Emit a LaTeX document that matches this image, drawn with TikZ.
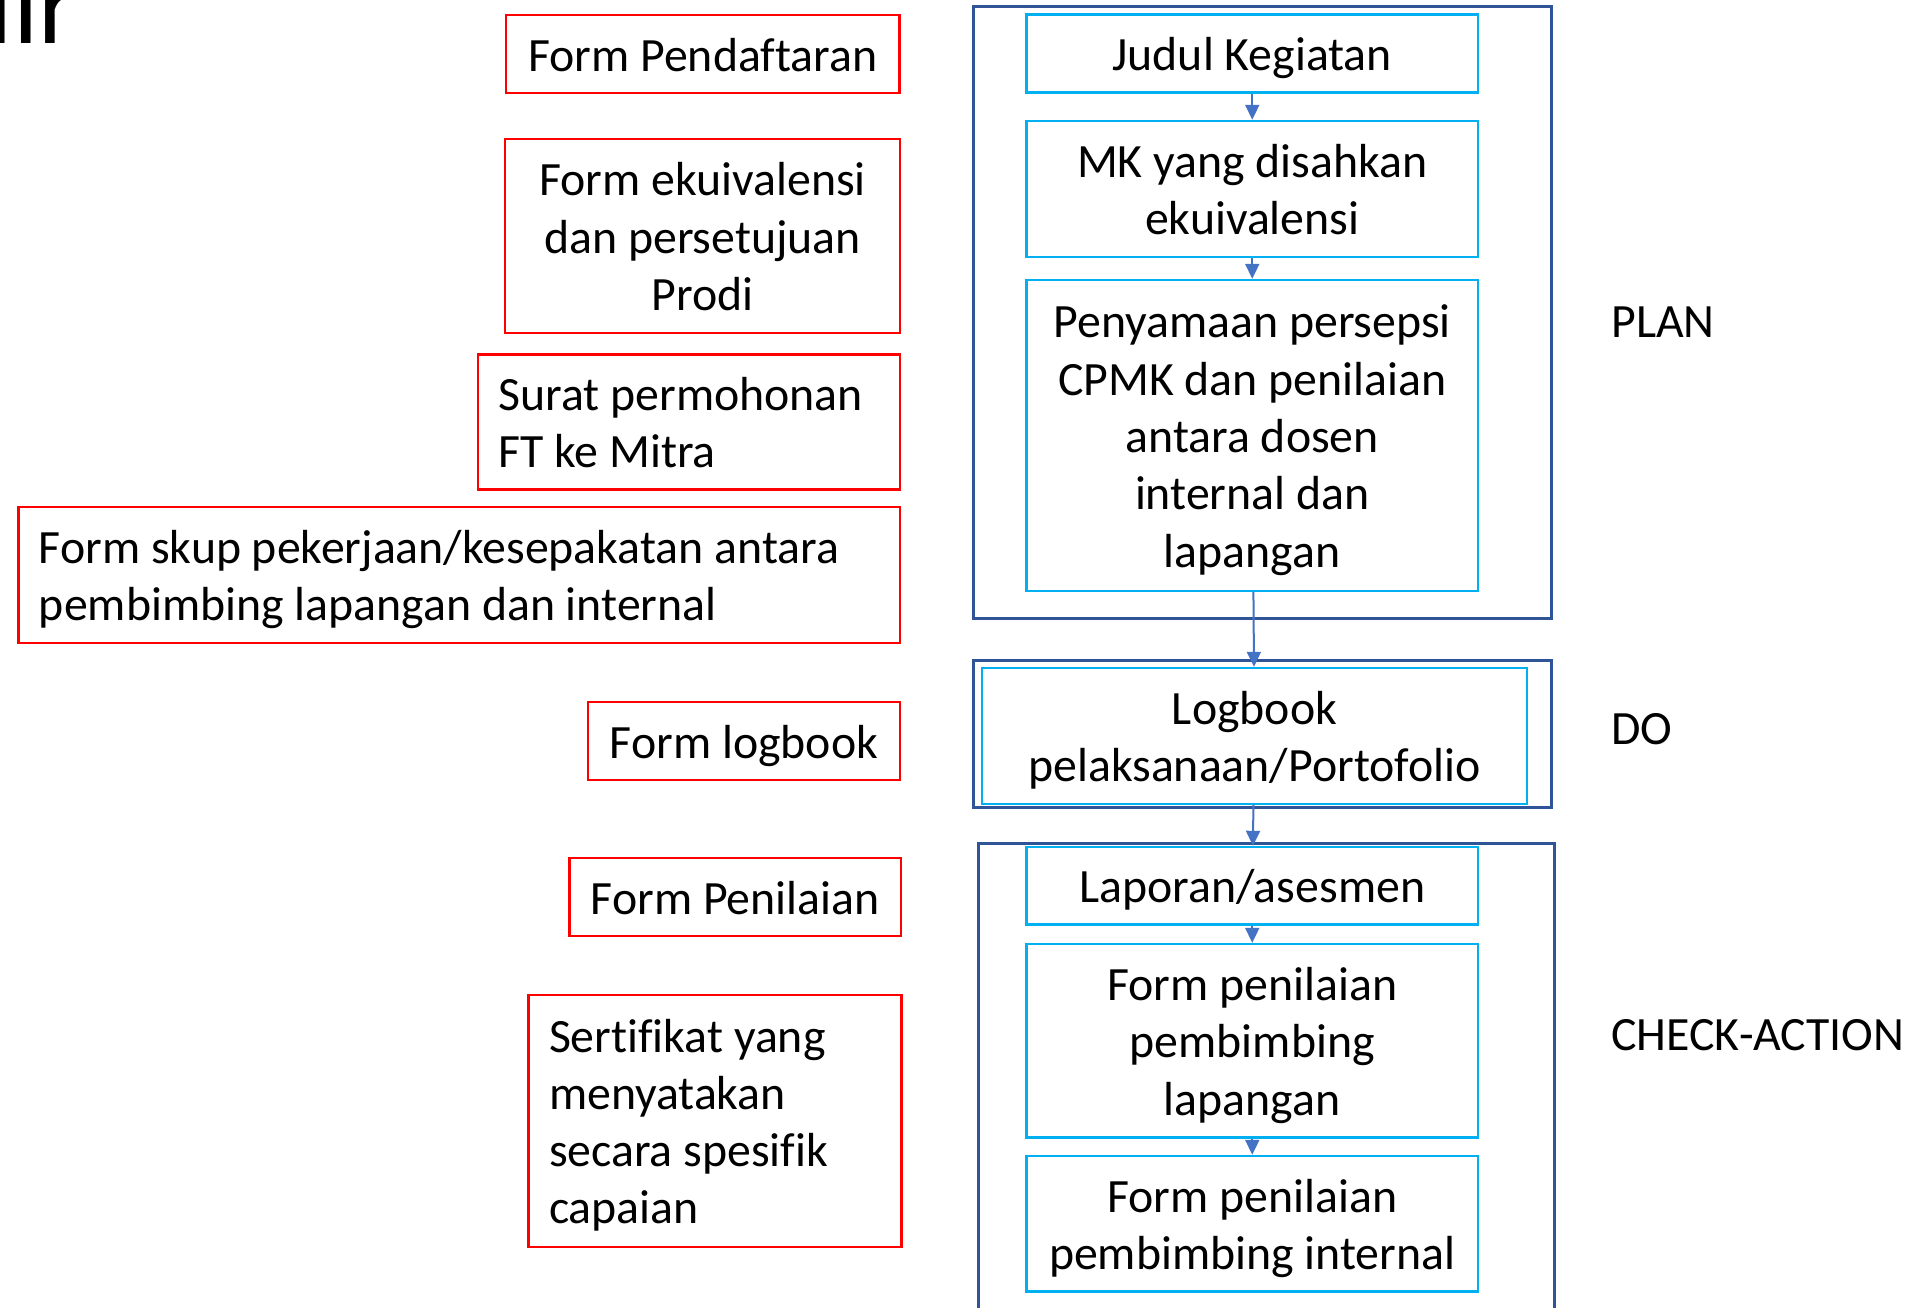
\documentclass[tikz,border=0pt]{standalone}
\usepackage{fontspec}
\setmainfont[Ligatures=NoCommon]{Carlito}
\usetikzlibrary{arrows.meta}
\definecolor{redbox}{HTML}{FF0000}
\definecolor{cyanbox}{HTML}{00B0F0}
\definecolor{framebl}{HTML}{2F5597}
\definecolor{arrowbl}{HTML}{4472C4}
\newcommand\sv{\rule[-5.75pt]{0pt}{28.5pt}}
\begin{document}
\begin{tikzpicture}[x=0.5pt,y=-0.5pt,
  body/.style={font=\fontsize{23.9}{28.65}\selectfont},
  sz/.style 2 args={minimum width=#1*0.5pt, minimum height=#2*0.5pt},
  redc/.style={body, draw=redbox, line width=1.2pt, inner sep=0pt, align=center},
  redl/.style={body, draw=redbox, line width=1.2pt, inner xsep=10.25pt, inner ysep=0pt, align=flush left},
  cyanc/.style={body, draw=cyanbox, line width=1.2pt, inner sep=0pt, align=center},
  frame/.style={draw=framebl, line width=1.5pt},
  flow/.style={draw=arrowbl, line width=1pt, -{Triangle[width=7pt,length=7.5pt]}},
  phase/.style={body, anchor=base west, inner sep=0pt}
]
\useasboundingbox (0,0) rectangle (1916,1307);

% title fragment
\node[anchor=base east, inner sep=0pt, font=\fontsize{55.5}{66}\selectfont] (title) at (78,43) {Diagram Alir};

% phase frames
\draw[frame] (973,6) rectangle (1551,618);
\draw[frame] (973,660) rectangle (1551,807);
\draw[frame] (978,843) rectangle (1554.5,1340);

% left red boxes
\node[redc, sz={393.5}{78}] (pend) at (702.75,54) {\sv Form Pendaftaran};
\node[redc, sz={395}{194}] (ekui) at (702.5,236) {\sv Form ekuivalensi\\\sv dan persetujuan\\\sv Prodi};
\node[redl, text width=190.5pt, minimum height=67.5pt] (surat) at (689,422) {\sv Surat permohonan\\\sv FT ke Mitra};
\node[redl, text width=420.25pt, minimum height=68pt] (skup) at (459.25,575) {\sv Form skup pekerjaan/kesepakatan antara\\\sv pembimbing lapangan dan internal};
\node[redc, sz={312}{78}] (flog) at (744,741) {\sv Form logbook};
\node[redc, sz={331.5}{78}] (fpen) at (735.25,897) {\sv Form Penilaian};
\node[redl, text width=166pt, minimum height=126pt] (sert) at (715,1121) {\sv Sertifikat yang\\\sv menyatakan\\\sv secara spesifik\\\sv capaian};

% right flow boxes
\node[cyanc, sz={451.5}{78}] (judul) at (1252.25,53.65) {\sv Judul Kegiatan};
\node[cyanc, sz={451.5}{136}] (mk) at (1252.25,189) {\sv MK yang disahkan\\\sv ekuivalensi};
\node[cyanc, sz={451.5}{311}] (peny) at (1252.25,435.5) {\sv Penyamaan persepsi\\\sv CPMK dan penilaian\\\sv antara dosen\\\sv internal dan\\\sv lapangan};
\node[cyanc, sz={545}{136}] (logb) at (1254.5,736) {\sv Logbook\\\sv pelaksanaan/Portofolio};
\node[cyanc, sz={451.5}{77.6}] (lap) at (1252.25,885.8) {\sv Laporan/asesmen};
\node[cyanc, sz={451.5}{193.6}] (fpl) at (1252.25,1040.8) {\sv Form penilaian\\\sv pembimbing\\\sv lapangan};
\node[cyanc, sz={451.5}{135.6}] (fpi) at (1252.25,1223.8) {\sv Form penilaian\\\sv pembimbing internal};

% connectors
\draw[flow] (judul) -- (mk);
\draw[flow] (mk) -- (peny);
\draw[flow] (peny) -- (logb);
\draw[flow] (logb) -- (lap);
\draw[flow] (lap) -- (fpl);
\draw[flow] (fpl) -- (fpi);

% phase labels
\node[phase] (plan) at (1611,337) {PLAN};
\node[phase] (do) at (1611,744) {DO};
\node[phase] (check) at (1611,1050.5) {CHECK-ACTION};
\end{tikzpicture}
\end{document}
